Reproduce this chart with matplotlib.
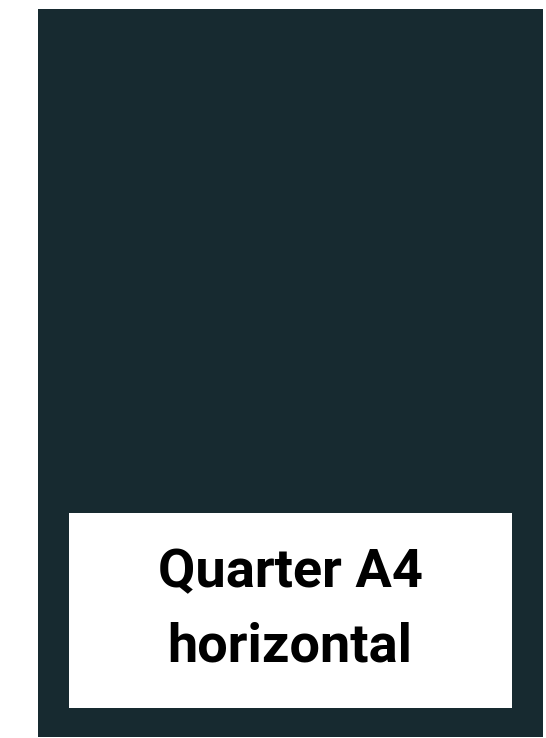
import matplotlib.pyplot as plt
from matplotlib.patches import Rectangle

W, H = 546, 738
page_color = '#172a30'
label_lines = ['Quarter A4', 'horizontal']

fig = plt.figure(figsize=(W / 100, H / 100), dpi=100)
ax = fig.add_axes([0, 0, 1, 1])
ax.set_xlim(0, W)
ax.set_ylim(H, 0)
ax.axis('off')

# dark page
ax.add_patch(Rectangle((38, 9), 505, 728, facecolor=page_color, edgecolor='none'))
# white label box
ax.add_patch(Rectangle((69, 513), 443, 195, facecolor='white', edgecolor='none'))

ax.text(290, 587, label_lines[0], ha='center', va='baseline', fontsize=39,
        fontweight='bold', family='Roboto', color='black')
ax.text(290, 662, label_lines[1], ha='center', va='baseline', fontsize=39,
        fontweight='bold', family='Roboto', color='black')

fig.savefig('out.png', dpi=100)
